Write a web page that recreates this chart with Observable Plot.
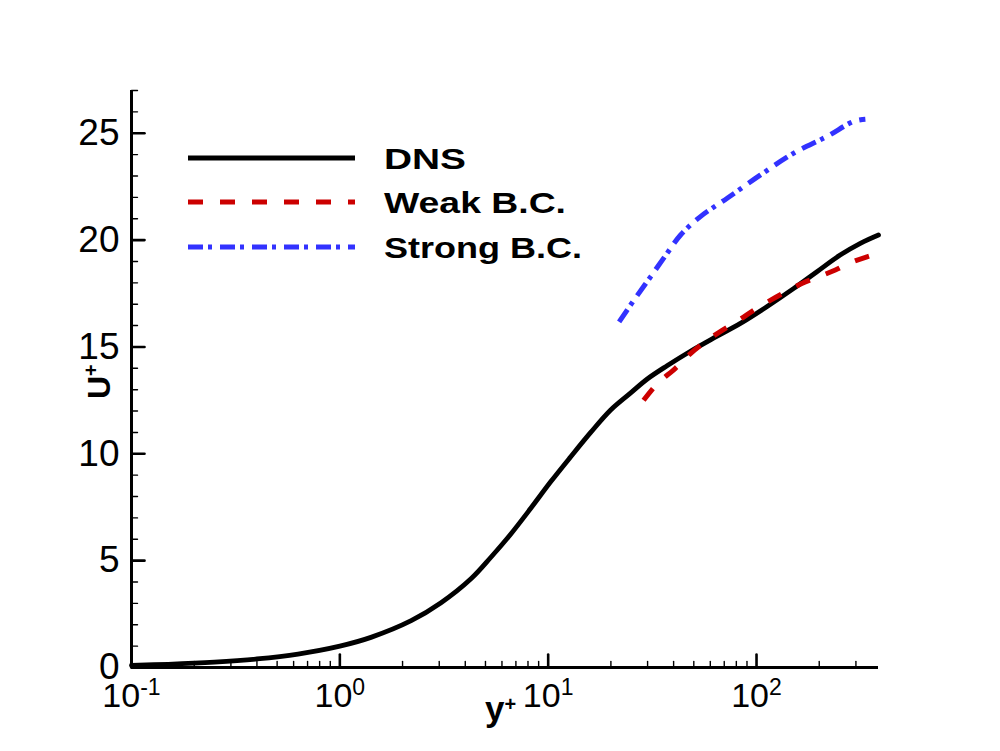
<!DOCTYPE html>
<html>
<head>
<meta charset="utf-8">
<script src="https://cdn.jsdelivr.net/npm/d3@7"></script>
<script src="https://cdn.jsdelivr.net/npm/@observablehq/plot@0.6"></script>
<style>
  html, body { margin: 0; padding: 0; background: #ffffff; }
  svg { display: block; }
</style>
</head>
<body>
<div id="chart"></div>
<script>
// ---------- data ----------
const dnsYPlus = [0.1, 0.15, 0.25, 0.4, 0.63, 1.0, 1.41, 2.2, 3.06, 4.26, 5.31, 6.62, 8.25, 10.3, 12.8, 16.0, 19.95, 24.9, 29.9, 37.2, 48.2, 62.4, 83.7, 112, 151, 195, 252, 315, 385];
const dnsU     = [0.1, 0.15, 0.25, 0.4, 0.63, 1.0, 1.41, 2.19, 3.03, 4.15, 5.16, 6.25, 7.45, 8.7, 9.85, 11.0, 12.05, 12.85, 13.5, 14.12, 14.8, 15.42, 16.1, 16.88, 17.74, 18.52, 19.3, 19.85, 20.24];

const weakYPlus = [28.7, 33.4, 40.8, 48.2, 57.9, 68.4, 82.2, 97, 117, 138, 165, 195, 239, 282, 339, 385];
const weakU     = [12.5, 13.28, 14.0, 14.69, 15.3, 15.78, 16.25, 16.72, 17.19, 17.58, 17.97, 18.25, 18.6, 18.94, 19.22, 19.38];

const strongYPlus = [21.9, 25.8, 31.0, 37.2, 43.2, 53.8, 72.3, 104.5, 151, 218, 292, 333];
const strongU     = [16.17, 17.19, 18.28, 19.38, 20.24, 21.1, 21.96, 23.05, 24.07, 24.85, 25.55, 25.66];

const seriesNames = ["DNS", "Weak B.C.", "Strong B.C."];
const seriesColors = ["#000000", "#cc0000", "#3232ff"];
const seriesDash = [null, "15,17", "15,5,4,8"];

const yMajor = [0, 5, 10, 15, 20, 25];
const yMinor = [1, 2, 3, 4, 6, 7, 8, 9, 11, 12, 13, 14, 16, 17, 18, 19, 21, 22, 23, 24, 26, 27];
const xTickExp = [-1, 0, 1, 2];
const xMinor = [0.2, 0.3, 0.4, 0.5, 0.6, 0.7, 0.8, 0.9, 2, 3, 4, 5, 6, 7, 8, 9, 20, 30, 40, 50, 60, 70, 80, 90, 200, 300];

const xTitle = "y", yTitle = "U", titleSup = "+";

// ---------- tables ----------
const toRows = (xs, ys) => xs.map((v, i) => ({yp: v, u: ys[i]}));
const dns = toRows(dnsYPlus, dnsU);
const weak = toRows(weakYPlus, weakU);
const strong = toRows(strongYPlus, strongU);

const FONT = '"Liberation Sans", Arial, Helvetica, sans-serif';
const tickShape = {draw(ctx, l) { ctx.moveTo(0, 0); ctx.lineTo(0, -l); }};

const svg = Plot.plot({
  width: 1000,
  height: 751,
  marginLeft: 131,
  marginRight: 122,
  marginTop: 90,
  marginBottom: 84,
  style: {background: "#ffffff", fontFamily: FONT, color: "#000"},
  x: {type: "log", domain: [0.1, 385], axis: null},
  y: {type: "linear", domain: [0, 27], axis: null},
  marks: [
    Plot.line(dns, {x: "yp", y: "u", stroke: seriesColors[0], strokeWidth: 4.8, curve: "catmull-rom"}),
    Plot.line(weak, {x: "yp", y: "u", stroke: seriesColors[1], strokeWidth: 5, strokeDasharray: seriesDash[1], strokeLinecap: "butt", curve: "catmull-rom"}),
    Plot.line(strong, {x: "yp", y: "u", stroke: seriesColors[2], strokeWidth: 5, strokeDasharray: seriesDash[2], strokeLinecap: "butt", curve: "catmull-rom"}),
    // axis lines
    Plot.ruleX([0.1], {stroke: "#000", strokeWidth: 3}),
    Plot.ruleY([0], {stroke: "#000", strokeWidth: 3}),
    // inward ticks
    Plot.vector(yMajor, {y: d => d, frameAnchor: "left", rotate: 90, length: 13, anchor: "start", shape: tickShape, stroke: "#000", strokeWidth: 2.6}),
    Plot.vector(yMinor, {y: d => d, frameAnchor: "left", rotate: 90, length: 6, anchor: "start", shape: tickShape, stroke: "#000", strokeWidth: 1.4}),
    Plot.vector(xTickExp, {x: d => 10 ** d, frameAnchor: "bottom", rotate: 0, length: 13, anchor: "start", shape: tickShape, stroke: "#000", strokeWidth: 2.6}),
    Plot.vector(xMinor, {x: d => d, frameAnchor: "bottom", rotate: 0, length: 6, anchor: "start", shape: tickShape, stroke: "#000", strokeWidth: 1.4}),
    // tick labels
    Plot.text(yMajor, {y: d => d, text: d => String(d), frameAnchor: "left", textAnchor: "end", dx: -12, fontSize: 37, lineAnchor: "middle", fill: "#000"}),
    Plot.text(xTickExp, {x: d => 10 ** d, text: d => "10^" + d, frameAnchor: "bottom", dy: 29, fontSize: 34, lineAnchor: "middle", fill: "#000"})
  ]
});

document.getElementById("chart").appendChild(svg);

const root = d3.select(svg);

// superscripts on x tick labels
root.selectAll("text").filter(function () { return this.textContent.includes("^"); }).each(function () {
  const parts = this.textContent.split("^");
  const t = d3.select(this);
  t.text(parts[0]);
  t.append("tspan").attr("font-size", 23).attr("dy", -12).text(parts[1]);
});

// axis titles
const xt = root.append("text")
  .attr("x", 485).attr("y", 721)
  .attr("text-anchor", "start")
  .attr("font-family", FONT).attr("font-weight", "bold").attr("font-size", 35)
  .attr("fill", "#000")
  .text(xTitle);
xt.append("tspan").attr("font-size", 20).attr("dy", -10).text(titleSup);

const yt = root.append("text")
  .attr("transform", "translate(110,399) rotate(-90)")
  .attr("text-anchor", "start")
  .attr("font-family", FONT).attr("font-weight", "bold").attr("font-size", 32)
  .attr("fill", "#000")
  .text(yTitle);
yt.append("tspan").attr("font-size", 20).attr("dy", -12).text(titleSup);

// legend
const legY = [158, 202, 247];
const legW = [82, 182, 198];
const leg = root.append("g").attr("aria-label", "legend");
seriesNames.forEach((name, i) => {
  leg.append("line")
    .attr("x1", 188).attr("x2", 355).attr("y1", legY[i]).attr("y2", legY[i])
    .attr("stroke", seriesColors[i]).attr("stroke-width", 5)
    .attr("stroke-dasharray", seriesDash[i])
    .attr("stroke-linecap", "butt");
  leg.append("text")
    .attr("x", 384).attr("y", legY[i] + 11)
    .attr("text-anchor", "start")
    .attr("font-family", FONT).attr("font-weight", "bold").attr("font-size", 30)
    .attr("textLength", legW[i]).attr("lengthAdjust", "spacingAndGlyphs")
    .attr("fill", "#000")
    .text(name);
});
</script>
</body>
</html>
